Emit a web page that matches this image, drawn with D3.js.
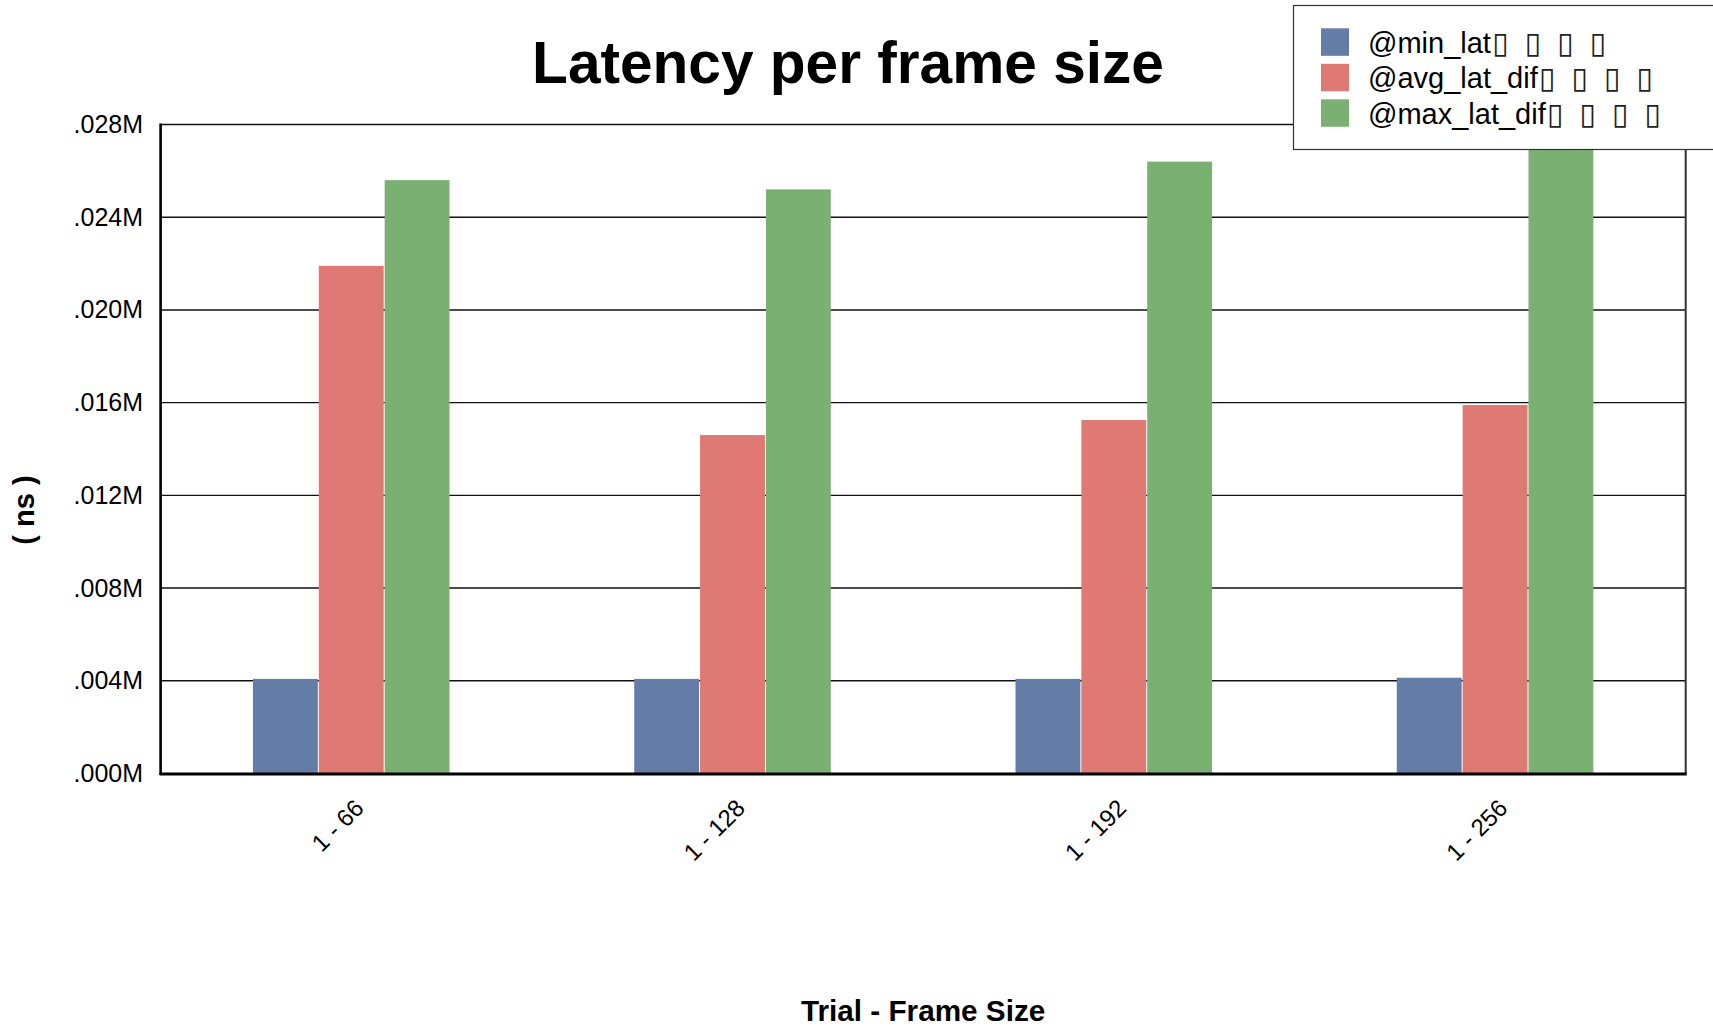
<!DOCTYPE html>
<html>
<head>
<meta charset="utf-8">
<script src="https://cdn.jsdelivr.net/npm/d3@7"></script>
<style>
  html, body { margin: 0; padding: 0; background: #fff; }
  svg { display: block; }
  text { font-family: "Liberation Sans", Arial, sans-serif; }
</style>
</head>
<body>
<svg id="chart" width="1713" height="1029"></svg>
<script>
// ---- data (values in ns) ----
const categories = ["1 - 66", "1 - 128", "1 - 192", "1 - 256"];
const seriesLabels = ["@min_lat", "@avg_lat_dif", "@max_lat_dif"];
const seriesSuffix = ["\u25AF ", "\u25AF ", "\u25AF ", "\u25AF"];
const minLat = [4080, 4080, 4080, 4130];
const avgLatDif = [21900, 14600, 15250, 15900];
const maxLatDif = [25600, 25200, 26400, 27200];
const yTicks = [0, 4000, 8000, 12000, 16000, 20000, 24000, 28000];
const seriesColors = ["#637da6", "#df7973", "#7bb073"];
const titleText = "Latency per frame size";
const xTitle = "Trial - Frame Size";
const yTitle = "( ns )";

const seriesNames = seriesLabels.map(s => s + seriesSuffix.join(""));
const seriesValues = [minLat, avgLatDif, maxLatDif];

const svg = d3.select("#chart");
const plot = { left: 160.6, right: 1685.7, top: 124.5, bottom: 773.5 };

const x0 = d3.scaleBand().domain(categories).range([plot.left, plot.right])
  .paddingInner(0.4844).paddingOuter(0.2422);
const x1 = d3.scaleBand().domain(seriesNames).range([0, x0.bandwidth()]).paddingInner(0.015);
const y = d3.scaleLinear().domain([0, 28000]).range([plot.bottom, plot.top]);

const fmt = d => "." + String(Math.round(d / 1000)).padStart(3, "0") + "M";

// gridlines
svg.append("g").selectAll("line").data(yTicks.filter(d => d > 0)).join("line")
  .attr("x1", plot.left).attr("x2", plot.right)
  .attr("y1", d => y(d)).attr("y2", d => y(d))
  .attr("stroke", "#111").attr("stroke-width", 1.4);

// bars
const groups = svg.append("g").selectAll("g").data(categories).join("g")
  .attr("transform", d => `translate(${x0(d)},0)`);
groups.selectAll("rect")
  .data((c, ci) => seriesNames.map((s, si) => ({ s, si, v: seriesValues[si][ci] })))
  .join("rect")
  .attr("x", d => x1(d.s))
  .attr("width", x1.bandwidth())
  .attr("y", d => y(d.v))
  .attr("height", d => y(0) - y(d.v))
  .attr("fill", d => seriesColors[d.si]);

// y axis
const yAxis = d3.axisLeft(y).tickValues(yTicks).tickFormat(fmt).tickSize(0).tickPadding(17.5);
const gy = svg.append("g").attr("transform", `translate(${plot.left},0)`).call(yAxis);
gy.select(".domain").remove();
gy.selectAll("text").attr("font-size", 25).attr("fill", "#000")
  .style("font-family", "'Liberation Sans', Arial, sans-serif");

svg.append("line").attr("x1", plot.left).attr("x2", plot.left)
  .attr("y1", plot.top - 1).attr("y2", plot.bottom + 1.5)
  .attr("stroke", "#000").attr("stroke-width", 2.6);
svg.append("line").attr("x1", plot.right).attr("x2", plot.right)
  .attr("y1", plot.top - 1).attr("y2", plot.bottom)
  .attr("stroke", "#333").attr("stroke-width", 2);

// x axis
const xAxis = d3.axisBottom(x0).tickSize(0).tickPadding(0);
const gx = svg.append("g").attr("transform", `translate(0,${plot.bottom})`).call(xAxis);
gx.select(".domain").remove();
gx.selectAll(".tick text")
  .attr("font-size", 24).attr("fill", "#000")
  .style("font-family", "'Liberation Sans', Arial, sans-serif")
  .attr("text-anchor", "end")
  .attr("dy", 0).attr("y", 0)
  .attr("transform", "translate(14,36) rotate(-45)");
svg.append("line").attr("x1", plot.left - 1).attr("x2", plot.right + 1)
  .attr("y1", plot.bottom + 0.5).attr("y2", plot.bottom + 0.5)
  .attr("stroke", "#000").attr("stroke-width", 3);

// titles
svg.append("text").attr("x", 848).attr("y", 83).attr("text-anchor", "middle")
  .attr("font-size", 58.6).attr("font-weight", "bold").text(titleText);
svg.append("text").attr("x", (plot.left + plot.right) / 2).attr("y", 1021)
  .attr("text-anchor", "middle").attr("font-size", 29.7).attr("font-weight", "bold").text(xTitle);
svg.append("text").attr("transform", "translate(34,510) rotate(-90)")
  .attr("text-anchor", "middle").attr("font-size", 29).attr("font-weight", "bold").text(yTitle);

// legend
const lg = svg.append("g");
lg.append("rect").attr("x", 1293.5).attr("y", 5.5).attr("width", 440).attr("height", 144)
  .attr("fill", "#fff").attr("stroke", "#333").attr("stroke-width", 1.2);
const rows = lg.selectAll("g.row").data(seriesLabels).join("g").attr("class", "row")
  .attr("transform", (d, i) => `translate(1321,${28.3 + i * 35.5})`);
rows.append("rect").attr("width", 28).attr("height", 27.5).attr("fill", (d, i) => seriesColors[i]);
rows.each(function(d) {
  const t = d3.select(this).append("text").attr("x", 47).attr("y", 24.5)
    .attr("font-size", 29).attr("fill", "#000");
  const head = t.append("tspan").text(d);
  const w = head.node().getComputedTextLength();
  seriesSuffix.forEach((s, k) => {
    t.append("tspan").attr("x", 47 + w + 1 + k * 32.5)
      .style("font-family", "'DejaVu Sans', sans-serif").attr("font-size", 30)
      .attr("fill", "#222").text(s);
  });
});
</script>
</body>
</html>
